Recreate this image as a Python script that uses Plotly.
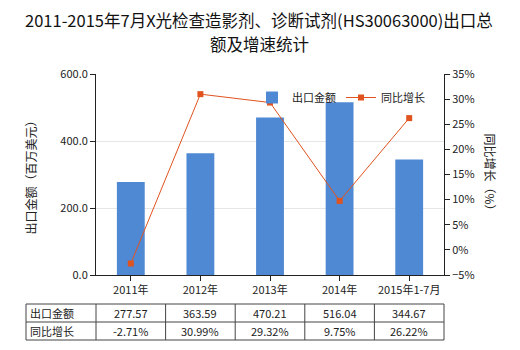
import plotly.graph_objects as go

categories = ["2011年", "2012年", "2013年", "2014年", "2015年1-7月"]
export_values = [277.57, 363.59, 470.21, 516.04, 344.67]
growth_values = [-2.71, 30.99, 29.32, 9.75, 26.22]
export_labels = ["277.57", "363.59", "470.21", "516.04", "344.67"]
growth_labels = ["-2.71%", "30.99%", "29.32%", "9.75%", "26.22%"]
row_names = ["出口金额", "同比增长"]
title_lines = ["2011-2015年7月X光检查造影剂、诊断试剂(HS30063000)出口总", "额及增速统计"]

FONT = "Noto Sans CJK SC, Microsoft YaHei, sans-serif"
BAR_COLOR = "#4f88d3"
LINE_COLOR = "#e0531f"

fig = go.Figure()
fig.add_trace(go.Bar(x=categories, y=export_values, name="出口金额",
                     marker=dict(color=BAR_COLOR, line=dict(width=0)), width=0.4,
                     yaxis="y"))
fig.add_trace(go.Scatter(x=categories, y=growth_values, name="同比增长",
                         mode="lines+markers", yaxis="y2",
                         line=dict(color=LINE_COLOR, width=1),
                         marker=dict(symbol="square", size=6, color=LINE_COLOR)))

L, R, T, B = 96, 76, 74, 75
W, H = 520, 350
pw, ph = W - L - R, H - T - B

def px_x(px):
    return (px - L) / pw

def px_y(py):
    return (H - B - py) / ph

shapes = []
tl, tr = px_x(26), 1.0
ys = [px_y(304), px_y(322), px_y(340)]
for yy in ys:
    shapes.append(dict(type="line", xref="paper", yref="paper", x0=tl, x1=tr, y0=yy, y1=yy,
                       line=dict(color="#444444", width=1)))
for xx in [tl] + [i / 5 for i in range(6)]:
    shapes.append(dict(type="line", xref="paper", yref="paper", x0=xx, x1=xx, y0=ys[0], y1=ys[2],
                       line=dict(color="#444444", width=1)))

annotations = []
row_centers = [(ys[0] + ys[1]) / 2, (ys[1] + ys[2]) / 2]
for r, name in enumerate(row_names):
    annotations.append(dict(text=name, xref="paper", yref="paper", x=px_x(28), y=row_centers[r],
                            xanchor="left", yanchor="middle", showarrow=False,
                            font=dict(size=11, color="#222", family=FONT)))
for i, c in enumerate(categories):
    for r, labels in enumerate([export_labels, growth_labels]):
        annotations.append(dict(text=labels[i], xref="paper", yref="paper", x=(i + 0.5) / 5,
                                y=row_centers[r], xanchor="center", yanchor="middle",
                                showarrow=False, font=dict(size=11, color="#222", family=FONT)))

annotations.append(dict(text="出口金额（百万美元）", xref="paper", yref="paper", x=px_x(30), y=0.5,
                        textangle=-90, showarrow=False, xanchor="center", yanchor="middle",
                        font=dict(size=12, color="#222", family=FONT)))
annotations.append(dict(text="同比增长（%）", xref="paper", yref="paper", x=px_x(490), y=0.5,
                        textangle=90, showarrow=False, xanchor="center", yanchor="middle",
                        font=dict(size=12, color="#222", family=FONT)))

for k, (line, py) in enumerate(zip(title_lines, [20, 44])):
    annotations.append(dict(text=line, xref="paper", yref="paper", x=px_x(259), y=px_y(py),
                            xanchor="center", yanchor="middle", showarrow=False,
                            font=dict(size=16.5, color="#111", family=FONT)))

fig.update_layout(
    width=W, height=H,
    margin=dict(l=L, r=R, t=T, b=B, pad=0),
    paper_bgcolor="white", plot_bgcolor="white",
    font=dict(family=FONT, size=11, color="#222"),
    xaxis=dict(type="category", showline=True, linecolor="#222", linewidth=1,
               ticks="outside", ticklen=5, tickcolor="#222", showgrid=False,
               tickfont=dict(size=11, color="#222")),
    yaxis=dict(range=[0, 600], dtick=200, tickformat=".1f", showline=True, linecolor="#222",
               linewidth=1, ticks="outside", ticklen=5, tickcolor="#222",
               showgrid=True, gridcolor="#e6e6e6", gridwidth=1, zeroline=False,
               tickfont=dict(size=11, color="#222")),
    yaxis2=dict(range=[-5, 35], dtick=5, ticksuffix="%", overlaying="y", side="right",
                showline=True, linecolor="#222", linewidth=1, ticks="outside", ticklen=5,
                tickcolor="#222", showgrid=False, zeroline=False,
                tickfont=dict(size=11, color="#222")),
    legend=dict(orientation="h", x=px_x(252), y=px_y(83), xanchor="left", yanchor="top",
                bgcolor="rgba(0,0,0,0)", font=dict(size=11, color="#222")),
    shapes=shapes,
    annotations=annotations,
    showlegend=True,
)

fig.write_html("out.html")
